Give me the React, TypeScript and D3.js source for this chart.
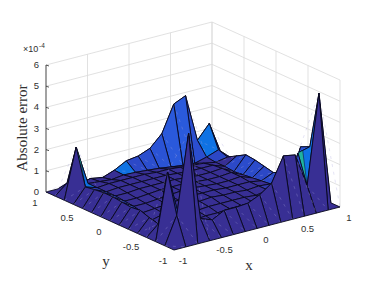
import React from "react";
import * as d3 from "d3";

const gridX = [-1,-0.857,-0.714,-0.571,-0.429,-0.286,-0.143,0,0.143,0.286,0.429,0.571,0.714,0.857,1];
const gridY = [1,0.857,0.714,0.571,0.429,0.286,0.143,0,-0.143,-0.286,-0.429,-0.571,-0.714,-0.857,-1];

// absolute error in units of 1e-4, one row per gridY value
const errorZ = [
  [0,0,0,0,0,0,0,0,0,0,0,0,0,0,0],
  [0,.47,.3,.4,.3,.5,.8,.88,1.1,1.65,2.9,3.15,.9,1.55,0],
  [0,2.37,.5,.45,.4,.47,.45,.4,.35,.27,.2,.15,.3,.5,0],
  [0,.68,.5,.55,.55,.55,.55,.5,.5,.45,.4,.35,.25,.35,0],
  [0,.75,.5,.55,.55,.55,.55,.55,.5,.45,.45,.45,.25,.6,0],
  [0,.8,.5,.5,.55,.55,.55,.55,.5,.45,.45,.5,.2,.85,0],
  [0,.8,.45,.45,.5,.55,.55,.55,.5,.45,.45,.5,.25,.8,0],
  [0,.75,.4,.4,.45,.5,.55,.55,.5,.45,.45,.5,.3,.7,0],
  [0,.7,.3,.35,.4,.45,.5,.5,.5,.45,.45,.45,.35,.6,0],
  [0,.75,.15,.3,.35,.4,.45,.5,.45,.45,.4,.45,.4,.8,0],
  [0,.6,.05,.25,.3,.35,.4,.4,.4,.4,.35,.45,.6,.9,0],
  [0,.5,.05,.2,.25,.3,.3,.35,.35,.35,.35,.5,.8,2.4,0],
  [0,3.15,.8,.4,.2,.2,.25,.3,.3,.3,.35,.5,2.45,2.6,0],
  [0,1.3,5.04,.85,.65,.95,.95,1,1.25,1.65,2.8,2.7,1.1,5.33,0],
  [0,0,0,0,0,0,0,0,0,0,0,0,0,0,0],
];

// facets (row-column) that stand out from the indigo/blue of the rest
const brightFaces = ["1-5", "1-12", "2-1", "9-1", "12-4", "11-13", "12-12"];
const tealFaces = ["2-1", "12-12"];

const xTicks = [-1,-0.5,0,0.5,1];
const yTicks = [-1,-0.5,0,0.5,1];
const zTicks = [0,1,2,3,4,5,6];

const width = 375;
const height = 283;

// oblique projection of the box, d3 scales give the screen offset per axis
const xToLeft = d3.scaleLinear([-1, 1], [110, 276]);
const xToTop = d3.scaleLinear([-1, 1], [221, 178]);
const yToLeft = d3.scaleLinear([-1, 1], [64, -64]);
const yToTop = d3.scaleLinear([-1, 1], [29, -29]);
const zToTop = d3.scaleLinear([0, 6], [0, -127]);

const px = (x: number, y: number) => xToLeft(x) + yToLeft(y);
const py = (x: number, y: number, z: number) => xToTop(x) + yToTop(y) + zToTop(z);
const pt = (x: number, y: number, z: number): [number, number] => [px(x, y), py(x, y, z)];

const faceColor = d3.scaleLinear<string>()
  .domain([0.1, 0.2, 1, 3])
  .range(["#382f94", "#2c46c4", "#2a52d4", "#2a5adc"])
  .clamp(true);

const polygon = d3.line().curve(d3.curveLinearClosed);

type Face = { key: string; d: string; seam: string | null; teal: string | null; fill: string; depth: number };

function buildFaces(): Face[] {
  const faces: Face[] = [];
  for (let r = 0; r < gridY.length - 1; r++) {
    for (let c = 0; c < gridX.length - 1; c++) {
      const x0 = gridX[c], x1 = gridX[c + 1], y0 = gridY[r], y1 = gridY[r + 1];
      const a = errorZ[r][c], b = errorZ[r][c + 1], e = errorZ[r + 1][c + 1], f = errorZ[r + 1][c];
      const mx = (x0 + x1) / 2, my = (y0 + y1) / 2;
      // how much the facet climbs going out towards the nearest edges
      const dzdx = ((b - a) + (e - f)) / 2;
      const dzdy = ((a - f) + (b - e)) / 2;
      const outward = Math.sign(mx) * dzdx + Math.sign(my) * dzdy;
      const steep = Math.abs(dzdx) + Math.abs(dzdy) > 0.25;
      const key = `${r}-${c}`;
      // teal is only a thin strip along the facet's left edge
      const stripEnd = d3.interpolateArray(pt(x0, y0, a), pt(x1, y0, b))(0.4) as [number, number];
      faces.push({
        key,
        d: polygon([pt(x0, y0, a), pt(x1, y0, b), pt(x1, y1, e), pt(x0, y1, f)]) as string,
        // the renderer left a faint seam along each facet's diagonal
        seam: steep ? (d3.line()([pt(x0, y0, a), pt(x1, y1, e)]) as string) : null,
        teal: tealFaces.includes(key) ? (polygon([pt(x0, y0, a), stripEnd, pt(x0, y1, f)]) as string) : null,
        fill: brightFaces.includes(key) ? "#0f72e4" : faceColor(outward),
        depth: mx + my,
      });
    }
  }
  return faces.sort((p, q) => d3.descending(p.depth, q.depth));
}

const gridColor = "#d9d9d9";
const axisColor = "#303030";
const sans = "'Liberation Sans', Arial, sans-serif";
const serif = "'Liberation Serif', 'Times New Roman', serif";

export default function App() {
  const faces = buildFaces();
  return (
    <svg width={width} height={height} viewBox={`0 0 ${width} ${height}`}
      style={{ position: "absolute", left: 0, top: 0, background: "#fff" }}>
      {/* back walls */}
      {zTicks.map((z) => (
        <g key={z} stroke={gridColor} strokeWidth={0.8}>
          <line x1={px(-1, 1)} y1={py(-1, 1, z)} x2={px(1, 1)} y2={py(1, 1, z)} />
          <line x1={px(1, 1)} y1={py(1, 1, z)} x2={px(1, -1)} y2={py(1, -1, z)} />
        </g>
      ))}
      {xTicks.map((x) => (
        <line key={x} x1={px(x, 1)} y1={py(x, 1, 0)} x2={px(x, 1)} y2={py(x, 1, 6)} stroke={gridColor} strokeWidth={0.8} />
      ))}
      {yTicks.map((y) => (
        <line key={y} x1={px(1, y)} y1={py(1, y, 0)} x2={px(1, y)} y2={py(1, y, 6)} stroke={gridColor} strokeWidth={0.8} />
      ))}

      {/* z axis */}
      <line x1={px(-1, 1)} y1={py(-1, 1, 0)} x2={px(-1, 1)} y2={py(-1, 1, 6)} stroke="#555" strokeWidth={1} />
      {zTicks.map((z) => (
        <g key={z}>
          <line x1={px(-1, 1)} y1={py(-1, 1, z)} x2={px(-1, 1) + 3} y2={py(-1, 1, z) + 1} stroke={axisColor} strokeWidth={0.8} />
          <text x={px(-1, 1) - 7} y={py(-1, 1, z) + 3} textAnchor="end" fontFamily={sans} fontSize={9.5} fill={axisColor}>{z}</text>
        </g>
      ))}

      {/* surface */}
      {faces.map((f) => (
        <g key={f.key}>
          <path d={f.d} fill={f.fill} stroke="#08081c" strokeWidth={0.9} strokeLinejoin="round" />
          {f.teal && <path d={f.teal} fill="#1fb3a0" stroke="#08081c" strokeWidth={0.5} />}
          {f.seam && <path d={f.seam} fill="none" stroke="#a9a6dc" strokeWidth={0.5} strokeDasharray="3 5" opacity={0.6} />}
        </g>
      ))}

      {/* tick labels on the floor edges */}
      {xTicks.map((x) => (
        <text key={x} x={px(x, -1) + 9} y={py(x, -1, 0) + 14} textAnchor="middle" fontFamily={sans} fontSize={9.5} fill={axisColor}>{x}</text>
      ))}
      {yTicks.map((y) => (
        <text key={y} x={px(-1, y) - 11} y={py(-1, y, 0) + 14} textAnchor="middle" fontFamily={sans} fontSize={9.5} fill={axisColor}>{y}</text>
      ))}

      <text x={23} y={52} fontFamily={sans} fontSize={9} fill={axisColor}>×10</text>
      <text x={39} y={48} fontFamily={sans} fontSize={6.5} fill={axisColor}>-4</text>
      <text transform="translate(27,128) rotate(-90)" textAnchor="middle" fontFamily={serif} fontSize={15} fill={axisColor}>Absolute error</text>
      <text x={106} y={266} textAnchor="middle" fontFamily={serif} fontSize={15} fill={axisColor}>y</text>
      <text x={249} y={270} textAnchor="middle" fontFamily={serif} fontSize={15} fill={axisColor}>x</text>
    </svg>
  );
}
